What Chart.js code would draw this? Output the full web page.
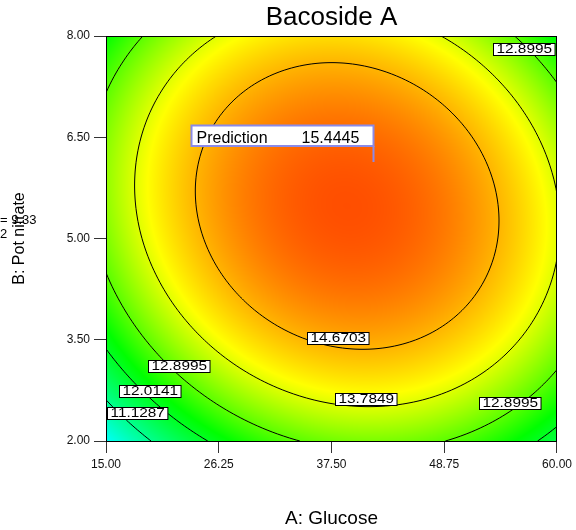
<!DOCTYPE html>
<html>
<head>
<meta charset="utf-8">
<title>Bacoside A</title>
<script src="https://cdn.jsdelivr.net/npm/chart.js@4.4.1/dist/chart.umd.min.js"></script>
<style>
  html, body { margin: 0; padding: 0; background: #fff; }
  #wrap { width: 576px; height: 530px; position: relative; }
</style>
</head>
<body>
<div id="wrap"><canvas id="chart" width="576" height="530"></canvas></div>
<script>
// Factor levels of the response grid
const glucose = [15, 19.5, 24, 28.5, 33, 37.5, 42, 46.5, 51, 55.5, 60];
const potNitrate = [2, 2.6, 3.2, 3.8, 4.4, 5, 5.6, 6.2, 6.8, 7.4, 8];

// Bacoside A response: one row per Pot nitrate level, one entry per Glucose level
const bacosideA = [
  [10.240, 11.130, 11.855, 12.416, 12.813, 13.045, 13.113, 13.016, 12.755, 12.330, 11.740],
  [11.115, 11.988, 12.698, 13.243, 13.623, 13.840, 13.891, 13.779, 13.502, 13.060, 12.455],
  [11.840, 12.698, 13.392, 13.921, 14.285, 14.485, 14.521, 14.393, 14.100, 13.642, 13.020],
  [12.417, 13.259, 13.937, 14.450, 14.798, 14.982, 15.002, 14.858, 14.549, 14.075, 13.437],
  [12.846, 13.671, 14.333, 14.830, 15.162, 15.331, 15.334, 15.174, 14.849, 14.359, 13.706],
  [13.125, 13.935, 14.580, 15.061, 15.378, 15.530, 15.518, 15.341, 15.000, 14.495, 13.825],
  [13.256, 14.049, 14.679, 15.144, 15.444, 15.581, 15.552, 15.360, 15.003, 14.481, 13.796],
  [13.237, 14.015, 14.629, 15.078, 15.362, 15.482, 15.438, 15.230, 14.857, 14.319, 13.617],
  [13.070, 13.832, 14.430, 14.863, 15.131, 15.235, 15.175, 14.951, 14.562, 14.008, 13.290],
  [12.755, 13.500, 14.082, 14.499, 14.751, 14.840, 14.763, 14.523, 14.118, 13.548, 12.815],
  [12.290, 13.020, 13.585, 13.986, 14.223, 14.295, 14.203, 13.946, 13.525, 12.940, 12.190]
];

const contourLevels = [11.1287, 12.0141, 12.8995, 13.7849, 14.6703];
const glucoseTicks = [15, 26.25, 37.5, 48.75, 60];
const potNitrateTicks = [2, 3.5, 5, 6.5, 8];
const predictionPoint = [41.63, 6.14];
const predictionValue = 15.4445;
const heldFactorValue = 9.33;

const FONT = '"Liberation Sans", Arial, Helvetica, sans-serif';
Chart.defaults.font.family = FONT;

// Colour ramp for the response surface
const ramp = [
  [8.5,  [0, 0, 255]],
  [10.2, [0, 255, 255]],
  [12.3, [0, 255, 0]],
  [14.0, [255, 255, 0]],
  [16.3, [255, 0, 0]]
];
function colourFor(v) {
  if (v <= ramp[0][0]) return ramp[0][1];
  for (let k = 1; k < ramp.length; k++) {
    if (v <= ramp[k][0]) {
      const [v0, c0] = ramp[k - 1], [v1, c1] = ramp[k];
      const t = (v - v0) / (v1 - v0);
      return [c0[0] + (c1[0] - c0[0]) * t, c0[1] + (c1[1] - c0[1]) * t, c0[2] + (c1[2] - c0[2]) * t];
    }
  }
  return ramp[ramp.length - 1][1];
}

// Pad the grid by one cell on every side so the cubic patches reach the edges
function padGrid(g) {
  const m = g.length, n = g[0].length;
  const rows = g.map(r => [3 * r[0] - 3 * r[1] + r[2], ...r, 3 * r[n - 1] - 3 * r[n - 2] + r[n - 3]]);
  const first = rows[0].map((v, k) => 3 * v - 3 * rows[1][k] + rows[2][k]);
  const last = rows[m - 1].map((v, k) => 3 * v - 3 * rows[m - 2][k] + rows[m - 3][k]);
  return [first, ...rows, last];
}
function cubic(p0, p1, p2, p3, t) {
  const t2 = t * t, t3 = t2 * t;
  return 0.5 * (2 * p1 + (p2 - p0) * t + (2 * p0 - 5 * p1 + 4 * p2 - p3) * t2 + (3 * p1 - p0 - 3 * p2 + p3) * t3);
}
function sampleSurface(P, fi, fj) {
  const n = P[0].length - 2, m = P.length - 2;
  const i0 = Math.min(Math.max(Math.floor(fi), 0), n - 2), tx = fi - i0;
  const j0 = Math.min(Math.max(Math.floor(fj), 0), m - 2), ty = fj - j0;
  const c = [];
  for (let r = 0; r < 4; r++) {
    const row = P[j0 + r];
    c.push(cubic(row[i0], row[i0 + 1], row[i0 + 2], row[i0 + 3], tx));
  }
  return cubic(c[0], c[1], c[2], c[3], ty);
}

function drawTag(ctx, text, cx, cy) {
  ctx.save();
  ctx.font = '12px ' + FONT;
  const sx = 1.28;
  const w = ctx.measureText(text).width * sx + 6, h = 12;
  const bx = Math.round(cx - w / 2) + 0.5, by = Math.round(cy - h / 2) + 0.5;
  ctx.fillStyle = '#fff';
  ctx.fillRect(bx, by, w, h);
  ctx.strokeStyle = '#000';
  ctx.lineWidth = 1;
  ctx.strokeRect(bx, by, w, h);
  ctx.translate(bx + w / 2, by + h / 2 + 0.5);
  ctx.scale(sx, 1);
  ctx.fillStyle = '#000';
  ctx.textAlign = 'center';
  ctx.textBaseline = 'middle';
  ctx.fillText(text, 0, 0);
  ctx.restore();
}

const surfacePlugin = {
  id: 'surface',
  beforeDatasetsDraw(chart, args, opts) {
    const { ctx, chartArea: ca, scales: { x, y } } = chart;
    const W = Math.round(ca.right - ca.left), H = Math.round(ca.bottom - ca.top);
    const P = padGrid(bacosideA);
    const dA = glucose[1] - glucose[0], dB = potNitrate[1] - potNitrate[0];
    const valueAt = (px, py) => sampleSurface(P,
      (x.getValueForPixel(px) - glucose[0]) / dA,
      (y.getValueForPixel(py) - potNitrate[0]) / dB);

    // colour field
    const off = document.createElement('canvas');
    off.width = W; off.height = H;
    const octx = off.getContext('2d');
    const img = octx.createImageData(W, H);
    for (let py = 0; py < H; py++) {
      for (let px = 0; px < W; px++) {
        const c = colourFor(valueAt(ca.left + px + 0.5, ca.top + py + 0.5));
        const k = (py * W + px) * 4;
        img.data[k] = c[0]; img.data[k + 1] = c[1]; img.data[k + 2] = c[2]; img.data[k + 3] = 255;
      }
    }
    octx.putImageData(img, 0, 0);
    ctx.drawImage(off, ca.left, ca.top);

    // contour lines
    const step = 2;
    const xs = [], ys = [];
    for (let v = ca.left; v < ca.right; v += step) xs.push(v);
    xs.push(ca.right);
    for (let v = ca.top; v < ca.bottom; v += step) ys.push(v);
    ys.push(ca.bottom);
    const F = ys.map(py => xs.map(px => valueAt(px, py)));
    ctx.save();
    ctx.beginPath();
    ctx.rect(ca.left, ca.top, ca.right - ca.left, ca.bottom - ca.top);
    ctx.clip();
    ctx.strokeStyle = '#000';
    ctx.lineWidth = 1;
    contourLevels.forEach(L => {
      ctx.beginPath();
      for (let j = 0; j < ys.length - 1; j++) {
        for (let i = 0; i < xs.length - 1; i++) {
          const v0 = F[j][i], v1 = F[j][i + 1], v2 = F[j + 1][i + 1], v3 = F[j + 1][i];
          const pts = [];
          const edge = (va, vb, xa, ya, xb, yb) => {
            if ((va >= L) !== (vb >= L)) {
              const t = (L - va) / (vb - va);
              pts.push([xa + (xb - xa) * t, ya + (yb - ya) * t]);
            }
          };
          edge(v0, v1, xs[i], ys[j], xs[i + 1], ys[j]);
          edge(v1, v2, xs[i + 1], ys[j], xs[i + 1], ys[j + 1]);
          edge(v3, v2, xs[i], ys[j + 1], xs[i + 1], ys[j + 1]);
          edge(v0, v3, xs[i], ys[j], xs[i], ys[j + 1]);
          for (let k = 0; k + 1 < pts.length; k += 2) {
            ctx.moveTo(pts[k][0], pts[k][1]);
            ctx.lineTo(pts[k + 1][0], pts[k + 1][1]);
          }
        }
      }
      ctx.stroke();
    });
    ctx.restore();

    // contour value tags
    opts.tags.forEach(t => {
      drawTag(ctx, contourLevels[t.level].toFixed(4), x.getPixelForValue(t.at[0]), y.getPixelForValue(t.at[1]));
    });

    // prediction flag
    const meta = chart.getDatasetMeta(0);
    const pt = meta.data[0];
    const fx = Math.round(pt.x) + 0.5, fy = Math.round(pt.y);
    const bw = 182, bh = 20.5;
    const bx = fx - bw, bottom = fy - 16, by = bottom - bh;
    ctx.save();
    ctx.fillStyle = '#fff';
    ctx.fillRect(bx, by, bw, bh);
    ctx.strokeStyle = '#8a8ae8';
    ctx.lineWidth = 2;
    ctx.strokeRect(bx, by, bw, bh);
    ctx.beginPath();
    ctx.moveTo(fx, bottom);
    ctx.lineTo(fx, fy);
    ctx.stroke();
    ctx.fillStyle = '#000';
    ctx.font = '16px ' + FONT;
    ctx.textBaseline = 'alphabetic';
    ctx.textAlign = 'left';
    ctx.fillText('Prediction', bx + 5, bottom - 3.5);
    ctx.fillText(predictionValue.toFixed(4), bx + 110, bottom - 3.5);
    ctx.restore();

    // plot frame
    ctx.save();
    ctx.strokeStyle = '#000';
    ctx.lineWidth = 1;
    ctx.strokeRect(ca.left + 0.5, ca.top + 0.5, W - 1, H);
    ctx.restore();
  },
  afterDraw(chart) {
    const { ctx } = chart;
    ctx.save();
    ctx.fillStyle = '#000';
    ctx.font = '13px ' + FONT;
    ctx.textAlign = 'left';
    ctx.textBaseline = 'alphabetic';
    ctx.fillText('= ' + heldFactorValue.toFixed(2), 0, 223.5);
    ctx.fillText('2', 0, 238);
    ctx.restore();
  }
};

new Chart(document.getElementById('chart'), {
  type: 'scatter',
  data: {
    datasets: [{
      label: 'Prediction',
      data: [{ x: predictionPoint[0], y: predictionPoint[1] }],
      pointRadius: 0,
      pointHoverRadius: 0
    }]
  },
  options: {
    responsive: false,
    animation: false,
    devicePixelRatio: 1,
    events: [],
    layout: { padding: { left: 0, right: 18, top: 0, bottom: 0 } },
    plugins: {
      legend: { display: false },
      tooltip: { enabled: false },
      title: {
        display: true,
        text: 'Bacoside A',
        fullSize: false,
        color: '#000',
        font: { size: 26, weight: 'normal' },
        padding: { top: 2.4, bottom: 2.4 }
      },
      surface: {
        tags: [
          { level: 2, at: [56.71, 7.807] },
          { level: 4, at: [38.10, 3.519] },
          { level: 3, at: [40.88, 2.622] },
          { level: 2, at: [55.27, 2.563] },
          { level: 2, at: [22.27, 3.111] },
          { level: 1, at: [19.38, 2.748] },
          { level: 0, at: [18.14, 2.422] }
        ]
      }
    },
    scales: {
      x: {
        type: 'linear',
        min: glucoseTicks[0],
        max: glucoseTicks[glucoseTicks.length - 1],
        afterBuildTicks: s => { s.ticks = glucoseTicks.map(v => ({ value: v })); },
        afterFit: s => { s.height = 89; },
        ticks: { callback: v => Number(v).toFixed(2), color: '#111', font: { size: 12 }, padding: 4, maxRotation: 0, autoSkip: false },
        grid: { drawOnChartArea: false, drawTicks: true, tickLength: 12, color: '#333' },
        border: { display: false },
        title: { display: true, text: 'A: Glucose', color: '#000', font: { size: 19 }, padding: { top: 0, bottom: 0 } }
      },
      y: {
        type: 'linear',
        min: potNitrateTicks[0],
        max: potNitrateTicks[potNitrateTicks.length - 1],
        afterBuildTicks: s => { s.ticks = potNitrateTicks.map(v => ({ value: v })); },
        afterFit: s => { s.width = 106; },
        ticks: { callback: v => Number(v).toFixed(2), color: '#111', font: { size: 12 }, padding: 4, autoSkip: false },
        grid: { drawOnChartArea: false, drawTicks: true, tickLength: 12, color: '#333' },
        border: { display: false },
        title: { display: true, text: 'B: Pot nitrate', color: '#000', font: { size: 16 }, padding: { top: 10, bottom: 0 } }
      }
    }
  },
  plugins: [surfacePlugin]
});
</script>
</body>
</html>
